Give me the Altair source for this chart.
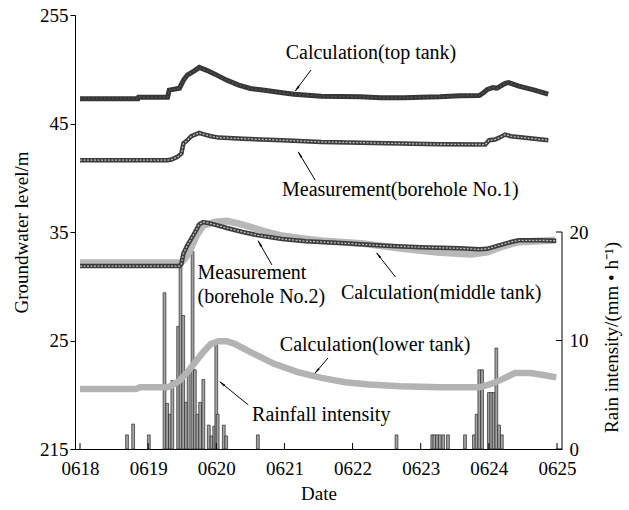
import math
import json
import altair as alt
import pandas as pd

# ---------------- data ----------------
date_labels = ["0618", "0619", "0620", "0621", "0622", "0623", "0624", "0625"]

top_day = [0, 0.85, 0.86, 1.285, 1.31, 1.46, 1.52, 1.575, 1.69, 1.75, 1.86, 1.98, 2.15, 2.33, 2.5,
           2.68, 2.97, 3.14, 3.54, 4.12, 4.41, 4.76, 5.0, 5.28, 5.57, 5.86, 5.92, 5.98, 6.06, 6.12,
           6.24, 6.29, 6.44, 6.67, 6.87]
top_lvl = [47.28, 47.28, 47.43, 47.43, 48.08, 48.25, 49.0, 49.46, 49.9, 50.17, 49.9, 49.55, 49.0, 48.54,
           48.23, 48.08, 47.83, 47.7, 47.52, 47.46, 47.37, 47.37, 47.43, 47.46, 47.55, 47.58, 47.83,
           48.14, 48.32, 48.25, 48.7, 48.78, 48.45, 48.08, 47.7]

bh1_day = [0, 1.285, 1.343, 1.43, 1.488, 1.517, 1.575, 1.633, 1.749, 1.807, 1.922, 2.038, 2.386, 2.965,
           3.544, 4.123, 4.702, 5.281, 5.947, 6.005, 6.092, 6.178, 6.236, 6.323, 6.497, 6.873]
bh1_lvl = [41.62, 41.62, 41.68, 41.92, 42.23, 43.15, 43.46, 43.83, 44.14, 44.02, 43.83, 43.7, 43.6, 43.46,
           43.3, 43.23, 43.15, 43.09, 43.06, 43.46, 43.52, 43.77, 43.98, 43.83, 43.7, 43.46]

bh2_day = [0, 1.459, 1.488, 1.517, 1.575, 1.633, 1.691, 1.749, 1.807, 1.922, 2.154, 2.386, 2.617, 2.965,
           3.312, 3.833, 4.412, 4.991, 5.57, 5.86, 5.976, 6.149, 6.323, 6.439, 6.729, 6.989]
bh2_lvl = [31.86, 31.86, 32.08, 33.0, 33.77, 34.4, 35.0, 35.7, 35.92, 35.77, 35.37, 35.0, 34.69, 34.35,
           34.15, 33.98, 33.75, 33.6, 33.5, 33.4, 33.45, 33.77, 34.08, 34.23, 34.23, 34.2]

mid_day = [0, 1.488, 1.575, 1.633, 1.72, 1.807, 1.98, 2.154, 2.328, 2.501, 2.733, 2.965, 3.254, 3.544,
           4.123, 4.702, 5.281, 5.744, 5.976, 6.207, 6.439, 6.97]
mid_lvl = [32.17, 32.2, 32.85, 33.6, 34.8, 35.6, 35.92, 36.0, 35.77, 35.46, 35.0, 34.65, 34.4, 34.2,
           33.95, 33.5, 33.1, 32.94, 33.15, 33.68, 34.08, 34.23]

low_day = [0, 0.822, 0.88, 1.285, 1.343, 1.459, 1.575, 1.691, 1.807, 1.922, 2.038, 2.154, 2.27, 2.501,
           2.849, 3.196, 3.544, 3.891, 4.239, 4.702, 5.281, 5.86, 6.034, 6.207, 6.381, 6.613, 6.844, 6.989]
low_lvl = [20.54, 20.54, 20.69, 20.69, 20.85, 21.3, 22.08, 23.0, 23.92, 24.69, 24.94, 24.94, 24.69, 23.92,
           22.85, 22.08, 21.55, 21.15, 20.94, 20.78, 20.69, 20.69, 21.0, 21.46, 22.0, 22.0, 21.77, 21.6]

rain_day = [0.69, 0.78, 1.01, 1.24, 1.28, 1.32, 1.355, 1.44, 1.475, 1.515, 1.555, 1.595, 1.652, 1.685,
            1.724, 1.763, 1.81, 1.89, 1.93, 1.97, 2.0, 2.02, 2.11, 2.145, 2.61, 4.645, 5.17, 5.2, 5.24,
            5.28, 5.33, 5.40, 5.65, 5.78, 5.82, 5.86, 5.90, 6.0, 6.035, 6.07, 6.11, 6.15, 6.19]
rain_val = [1.3, 2.3, 1.3, 14.4, 4.2, 3.2, 6.3, 11.3, 17.3, 12.3, 4.3, 7.2, 18.2, 7.3,
            3.2, 4.3, 6.4, 2.2, 1.2, 2.1, 9.6, 3.2, 2.2, 1.2, 1.3, 1.3, 1.3, 1.3, 1.3,
            1.3, 1.3, 1.3, 1.3, 1.3, 3.2, 7.3, 7.3, 5.2, 5.2, 5.2, 9.3, 2.2, 1.3]

ann_text = ["Calculation(top tank)", "Measurement(borehole No.1)", "Calculation(middle tank)",
            "Calculation(lower tank)", "Rainfall intensity"]
ann_day = [4.27, 4.70, 5.30, 4.33, 3.54]
ann_lvl = [51.5, 38.87, 29.38, 24.59, 18.13]

ann2_text = ["Measurement", "(borehole No.2)"]
ann2_day = [1.725, 1.725]
ann2_lvl = [31.22, 29.01]

arr_t_day = [3.39, 3.45, 2.817, 4.63, 3.64, 2.47]
arr_t_lvl = [49.93, 39.79, 31.96, 30.85, 23.39, 19.06]
arr_h_day = [3.16, 3.205, 2.616, 4.355, 3.45, 2.055]
arr_h_lvl = [48.0, 42.37, 34.17, 33.06, 22.0, 21.18]

left_ticks = [15, 25, 35, 45, 55]
rain_ticks = [0, 10, 20]

# ---------------- chart ----------------
CW, CH = 629, 510
PAD_L, PAD_T = 75, 15
W, H = 487, 434
X_DOM, Y_DOM, R_DOM = [0, 7], [15, 55], [0, 40]
PX_DAY = W / (X_DOM[1] - X_DOM[0])
PX_LVL = H / (Y_DOM[1] - Y_DOM[0])
FONT = "Liberation Serif"

xs = alt.Scale(domain=X_DOM, nice=False, zero=False)
ys = alt.Scale(domain=Y_DOM, nice=False, zero=False)
rs = alt.Scale(domain=R_DOM, nice=False)

x_axis = alt.Axis(values=list(range(len(date_labels))),
                  labelExpr=json.dumps(date_labels) + "[datum.value]",
                  ticks=False, labelPadding=10, title="Date", titlePadding=6)
y_axis = alt.Axis(values=left_ticks, orient="left",
                  labelExpr="datum.value == 15 ? '215' : datum.value == 55 ? '255' : datum.label",
                  tickSize=5, labelPadding=2, title="Groundwater level/m", titlePadding=8)
r_axis = alt.Axis(values=rain_ticks, orient="right", ticks=False, domain=False, labelPadding=7,
                  title="Rain intensity/(mm • h⁻¹)", titleAngle=270, titleX=49, titleY=322,
                  titleAlign="center", titleBaseline="middle")

X = alt.X("day:Q", scale=xs, axis=x_axis)
Y = alt.Y("lvl:Q", scale=ys, axis=y_axis)


def series(day, lvl):
    return pd.DataFrame({"day": day, "lvl": lvl})


def line(df, color, width, dash=None):
    kw = dict(color=color, strokeWidth=width)
    if dash:
        kw["strokeDash"] = dash
    return alt.Chart(df).mark_line(**kw).encode(x=X, y=Y)


mid = series(mid_day, mid_lvl)
low = series(low_day, low_lvl)
top = series(top_day, top_lvl)
bh1 = series(bh1_day, bh1_lvl)
bh2 = series(bh2_day, bh2_lvl)

lines = [
    line(low, "#b3b3b3", 6.5),
    line(mid, "#b8b8b8", 7),
    line(top, "#363636", 5),
    line(top, "#555555", 1.2, [2, 2]),
    line(bh1, "#3c3c3c", 4.5),
    line(bh1, "#bdbdbd", 1.3, [2, 1.5]),
    line(bh2, "#3c3c3c", 4.5),
    line(bh2, "#bdbdbd", 1.3, [2, 1.5]),
]

# x-axis inner ticks
xt = pd.DataFrame({"day": list(range(len(date_labels)))})
xticks = alt.Chart(xt).mark_rule(color="black", strokeWidth=1).encode(
    x=X, y=alt.value(H), y2=alt.value(H - 6))

# annotations
ann = pd.DataFrame({"day": ann_day, "lvl": ann_lvl, "label": ann_text})
ann2 = pd.DataFrame({"day": ann2_day, "lvl": ann2_lvl, "label": ann2_text})
txt = alt.Chart(ann).mark_text(font=FONT, fontSize=20, color="black", align="center",
                               baseline="middle").encode(x=X, y=Y, text="label:N")
txt2 = alt.Chart(ann2).mark_text(font=FONT, fontSize=20, color="black", align="left",
                                 baseline="middle").encode(x=X, y=Y, text="label:N")

arr = pd.DataFrame({"day": arr_t_day, "lvl": arr_t_lvl, "day2": arr_h_day, "lvl2": arr_h_lvl})
arrows = alt.Chart(arr).mark_rule(color="black", strokeWidth=1).encode(
    x=X, y=Y, x2="day2:Q", y2="lvl2:Q")

heads = []
for td, tl, hd, hl in zip(arr_t_day, arr_t_lvl, arr_h_day, arr_h_lvl):
    dx = (hd - td) * PX_DAY
    up = (hl - tl) * PX_LVL
    L = math.hypot(dx, up)
    ang = math.degrees(math.atan2(dx, up)) % 360
    back = 3.5
    heads.append({"day": hd - dx / L * back / PX_DAY, "lvl": hl - up / L * back / PX_LVL, "ang": ang})
heads_df = pd.DataFrame(heads)
arrowheads = alt.Chart(heads_df).mark_point(shape="wedge", filled=True, color="black", size=70,
                                            opacity=1).encode(
    x=X, y=Y, angle=alt.Angle("ang:Q", scale=None))

left_layer = alt.layer(*lines, xticks, arrows, arrowheads, txt, txt2)

# rain layer
rain = pd.DataFrame({"day": rain_day, "rain": rain_val})
RY = alt.Y("rain:Q", scale=rs, axis=r_axis)
bars = alt.Chart(rain).mark_bar(size=2.8, fill="#a3a3a3", stroke="#2a2a2a", strokeWidth=0.7).encode(
    x=X, y=RY)
rdom = pd.DataFrame({"rain": [rain_ticks[0]], "rain2": [rain_ticks[-1]]})
rdomain = alt.Chart(rdom).mark_rule(color="black", strokeWidth=1).encode(
    x=alt.value(W), y=RY, y2="rain2:Q")
rt = pd.DataFrame({"rain": rain_ticks})
rticks = alt.Chart(rt).mark_rule(color="black", strokeWidth=1).encode(
    x=alt.value(W - 6), x2=alt.value(W), y=RY)
rain_layer = alt.layer(bars, rdomain, rticks)

chart = alt.layer(rain_layer, left_layer).resolve_scale(y="independent").properties(
    width=W, height=H, autosize="none",
    padding={"left": PAD_L, "top": PAD_T, "right": CW - PAD_L - W, "bottom": CH - PAD_T - H},
    background="white",
).configure_view(stroke=None).configure_axis(
    labelFont=FONT, titleFont=FONT, labelFontSize=19, titleFontSize=19, titleFontWeight="normal",
    labelColor="black", titleColor="black", domainColor="black", tickColor="black", grid=False,
)

chart.save("out.html", embed_options={"renderer": "svg", "actions": False})
